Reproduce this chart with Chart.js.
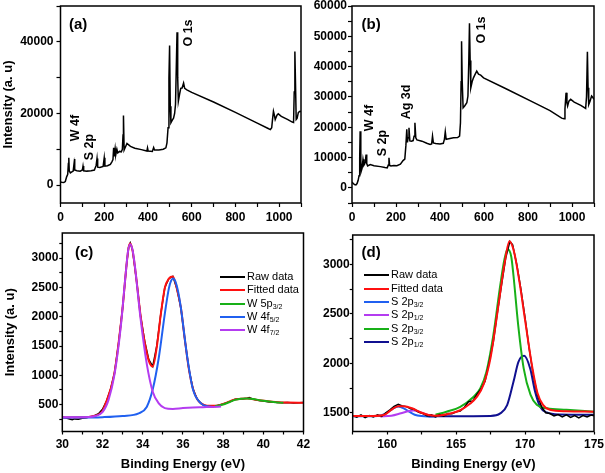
<!DOCTYPE html>
<html>
<head>
<meta charset="utf-8">
<script src="https://cdn.jsdelivr.net/npm/chart.js@4.4.1/dist/chart.umd.min.js"></script>
<style>
  body { margin: 0; background: #fff; }
  #wrap { position: relative; width: 605px; height: 473px; font-family: "Liberation Sans", Arial, sans-serif; color: #000; }
  canvas { position: absolute; left: 0; }
  .tag { position: absolute; font-weight: bold; font-size: 12.5px; line-height: 1; transform: translate(-50%, -50%) rotate(-90deg); white-space: nowrap; }
  .plabel { position: absolute; font-weight: bold; font-size: 15px; line-height: 1; }
  .legend { position: absolute; font-size: 11px; }
  .legend div { height: 13.3px; line-height: 13.3px; white-space: nowrap; }
  .legend i { display: inline-block; width: 25px; height: 2px; vertical-align: middle; margin-right: 2px; }
  .legend sub { font-size: 7px; line-height: 0; vertical-align: -2px; }
</style>
</head>
<body>
<div id="wrap">
  <canvas id="pa" width="605" height="225" style="top:0"></canvas>
  <canvas id="pb" width="605" height="225" style="top:0"></canvas>
  <canvas id="pc" width="605" height="248" style="top:225px"></canvas>
  <canvas id="pd" width="605" height="248" style="top:225px"></canvas>

  <div class="plabel" style="left:69px;top:15.5px">(a)</div>
  <div class="plabel" style="left:361.5px;top:15.5px">(b)</div>
  <div class="plabel" style="left:75px;top:243.5px">(c)</div>
  <div class="plabel" style="left:361.5px;top:244px">(d)</div>

  <div class="tag" style="left:75px;top:127.5px">W 4f</div>
  <div class="tag" style="left:88.5px;top:147px">S 2p</div>
  <div class="tag" style="left:187.5px;top:33px">O 1s</div>
  <div class="tag" style="left:368.5px;top:118px">W 4f</div>
  <div class="tag" style="left:381.5px;top:142.5px">S 2p</div>
  <div class="tag" style="left:405.5px;top:102px">Ag 3d</div>
  <div class="tag" style="left:481px;top:30px">O 1s</div>

  <div class="legend" style="left:220px;top:270px">
    <div><i style="background:#000"></i>Raw data</div>
    <div><i style="background:#ff1010"></i>Fitted data</div>
    <div><i style="background:#18b018"></i>W 5p<sub>3/2</sub></div>
    <div><i style="background:#2060f0"></i>W 4f<sub>5/2</sub></div>
    <div><i style="background:#b43cf0"></i>W 4f<sub>7/2</sub></div>
  </div>
  <div class="legend" style="left:364px;top:268.4px">
    <div><i style="background:#000"></i>Raw data</div>
    <div><i style="background:#ff1010"></i>Fitted data</div>
    <div><i style="background:#2060f0"></i>S 2p<sub>3/2</sub></div>
    <div><i style="background:#b43cf0"></i>S 2p<sub>1/2</sub></div>
    <div><i style="background:#18b018"></i>S 2p<sub>3/2</sub></div>
    <div><i style="background:#101090"></i>S 2p<sub>1/2</sub></div>
  </div>
</div>
<script>
// (a) survey spectrum
const aEnergy = [0, 5, 15, 22, 28, 33, 36, 38, 40, 45, 52, 58, 62, 64, 66, 75, 90, 100, 103, 106, 120, 140, 155, 163, 167, 170, 180, 195, 200, 203, 215, 228, 235, 240, 243, 246, 250, 253, 258, 262, 270, 278, 283, 286, 288, 291, 296, 304, 320, 340, 370, 395, 398, 401, 420, 426, 430, 450, 470, 482, 487, 492, 496, 499, 502, 505, 512, 517, 522, 526, 530, 533, 536, 539, 545, 550, 556, 563, 568, 578, 600, 700, 800, 900, 950, 960, 966, 970, 974, 978, 982, 990, 996, 1010, 1040, 1060, 1066, 1069, 1072, 1075, 1078, 1082, 1088, 1095, 1100];
const aCounts = [900, 800, 700, 1000, 2300, 3000, 6000, 7600, 4000, 3400, 3700, 3900, 6000, 7300, 4200, 4000, 3900, 4200, 5300, 4000, 3900, 4000, 4200, 5500, 7400, 5000, 4900, 5200, 7600, 5300, 5400, 5800, 6500, 7100, 10400, 8000, 10200, 8500, 10000, 9000, 9400, 9300, 10000, 14000, 19400, 9800, 10500, 11600, 10800, 10300, 9900, 9500, 10400, 9500, 9400, 10500, 9800, 9800, 10000, 10400, 11800, 16000, 30000, 39000, 22000, 17400, 18200, 18700, 20000, 22500, 34000, 42700, 30000, 23400, 25500, 27000, 27100, 28500, 27000, 26600, 25900, 23200, 20300, 17300, 15800, 15500, 16000, 18500, 20600, 19600, 18300, 19500, 19900, 19200, 18300, 17600, 17500, 26000, 37300, 28000, 18300, 18600, 20300, 20600, 20500];

// (b) survey spectrum
const bEnergy = [0, 5, 11, 18, 23, 28, 32, 35, 37, 40, 42, 46, 50, 54, 58, 61, 64, 67, 71, 83, 100, 129, 150, 160, 165, 168, 171, 177, 190, 204, 220, 232, 240, 245, 249, 252, 255, 259, 263, 270, 278, 282, 286, 290, 295, 318, 340, 355, 362, 366, 370, 380, 400, 415, 420, 424, 428, 440, 461, 480, 489, 493, 496, 498, 501, 505, 512, 522, 527, 531, 534, 537, 540, 546, 552, 560, 567, 575, 585, 598, 700, 825, 900, 953, 964, 968, 973, 977, 980, 986, 994, 1010, 1040, 1062, 1066, 1070, 1073, 1076, 1082, 1089, 1095, 1100];
const bCounts = [1900, 1500, 1100, 1000, 1400, 2500, 4000, 10000, 18700, 9000, 5500, 6500, 9400, 7500, 8000, 8800, 11000, 8000, 7200, 7700, 7300, 7000, 6700, 6600, 7500, 9900, 7400, 7200, 7400, 7300, 7800, 9000, 9500, 14000, 19300, 15000, 16500, 19800, 15500, 15400, 15600, 17000, 21500, 16500, 15800, 15400, 14700, 14300, 14500, 17100, 14800, 14600, 14500, 14700, 16000, 18500, 16000, 16200, 16500, 16600, 17100, 21500, 35000, 48400, 35000, 26400, 27000, 28100, 30300, 42000, 54300, 42000, 33000, 35000, 36300, 37500, 38500, 37500, 37200, 36300, 32700, 28200, 25500, 23000, 22800, 26000, 31400, 28000, 27000, 28600, 29200, 28300, 27200, 26200, 30000, 44900, 33000, 27500, 28600, 30300, 29800, 29200];

// (c) W 4f region
const cEnergy = [30.0, 30.2, 30.4, 30.5, 30.6, 30.8, 31.0, 31.2, 31.4, 31.6, 31.8, 32.0, 32.2, 32.4, 32.6, 32.8, 33.0, 33.2, 33.3, 33.38, 33.5, 33.7, 33.9, 34.1, 34.3, 34.5, 34.7, 34.9, 35.1, 35.3, 35.5, 35.7, 35.9, 36.1, 36.3, 36.5, 36.7, 36.9, 37.1, 37.4, 37.7, 38.0, 38.3, 38.6, 38.8, 39.0, 39.2, 39.3, 39.5, 39.8, 40.0, 40.3, 40.6, 40.9, 41.2, 41.5, 41.8, 42.0];
const cRaw = [290, 270, 250, 240, 255, 250, 265, 275, 290, 310, 345, 420, 560, 760, 1050, 1550, 2150, 2900, 3190, 3260, 3130, 2600, 2000, 1580, 1270, 1150, 1500, 2050, 2500, 2650, 2690, 2480, 2150, 1600, 1100, 770, 600, 520, 480, 470, 480, 510, 545, 590, 595, 600, 610, 620, 590, 570, 560, 545, 540, 530, 535, 525, 530, 535];
const cFitE = [30, 31, 31.5, 32, 32.2, 32.4, 32.6, 32.8, 33.0, 33.2, 33.3, 33.38, 33.5, 33.7, 33.9, 34.1, 34.3, 34.5, 34.7, 34.9, 35.1, 35.3, 35.5, 35.7, 35.9, 36.1, 36.3, 36.5, 36.7, 36.9, 37.2, 37.6, 38.0, 38.6, 39.2, 39.8, 40.6, 41.2, 42];
const cFit = [280, 282, 300, 390, 560, 760, 1050, 1550, 2150, 2900, 3180, 3250, 3120, 2600, 2000, 1560, 1250, 1150, 1480, 2040, 2490, 2650, 2685, 2480, 2150, 1600, 1100, 770, 600, 520, 480, 480, 510, 585, 605, 575, 545, 535, 530];
const c5pE = [37.6, 38.0, 38.3, 38.6, 38.9, 39.2, 39.5, 39.8, 40.2, 40.6, 41.0];
const c5p = [470, 500, 540, 580, 600, 605, 595, 575, 555, 540, 530];
const c4f5E = [30, 32, 33, 33.8, 34.2, 34.5, 34.8, 35.1, 35.3, 35.42, 35.52, 35.62, 35.75, 35.9, 36.2, 36.5, 36.9, 37.2, 37.5];
const c4f5 = [275, 285, 305, 350, 460, 760, 1300, 2050, 2480, 2620, 2655, 2610, 2450, 2150, 1350, 760, 520, 470, 460];
const c4f7E = [30, 31, 31.6, 32, 32.3, 32.6, 32.9, 33.15, 33.27, 33.38, 33.49, 33.6, 33.9, 34.2, 34.5, 34.8, 35.1, 35.5, 36, 36.5, 37, 37.5, 37.9];
const c4f7 = [285, 285, 300, 370, 580, 1020, 1800, 2720, 3120, 3240, 3150, 2900, 1950, 1200, 720, 520, 440, 425, 440, 450, 455, 460, 465];

// (d) S 2p region
const dEnergy = [157.5, 157.8, 158.1, 158.4, 158.7, 159.0, 159.3, 159.6, 159.9, 160.2, 160.5, 160.8, 161.1, 161.4, 161.7, 162.0, 162.3, 162.6, 162.9, 163.2, 163.5, 163.8, 164.1, 164.4, 164.7, 165.0, 165.3, 165.6, 165.9, 166.2, 166.5, 166.8, 167.1, 167.4, 167.7, 168.0, 168.3, 168.6, 168.9, 169.1, 169.4, 169.7, 170.0, 170.3, 170.6, 170.9, 171.2, 171.5, 171.8, 172.1, 172.4, 172.7, 173.0, 173.3, 173.6, 173.9, 174.2, 174.5, 174.8, 175.0];
const dRaw = [1470, 1455, 1478, 1450, 1472, 1458, 1478, 1462, 1500, 1530, 1565, 1585, 1568, 1562, 1540, 1532, 1505, 1492, 1468, 1478, 1458, 1482, 1465, 1492, 1490, 1510, 1518, 1555, 1612, 1618, 1685, 1740, 1820, 2010, 2220, 2520, 2800, 3070, 3235, 3200, 3000, 2750, 2460, 2150, 1880, 1680, 1560, 1500, 1492, 1468, 1482, 1458, 1478, 1452, 1472, 1448, 1472, 1458, 1476, 1470];
const dFitE = [157.5, 159, 159.8, 160.3, 160.8, 161.2, 161.8, 162.4, 163, 163.5, 164.5, 165.3, 166, 166.5, 167, 167.5, 168, 168.5, 168.87, 169.2, 169.6, 170, 170.5, 170.9, 171.3, 171.8, 173, 175];
const dFit = [1468, 1468, 1480, 1530, 1565, 1565, 1545, 1505, 1478, 1470, 1490, 1525, 1590, 1660, 1790, 2060, 2520, 3000, 3236, 3130, 2820, 2440, 1980, 1700, 1580, 1530, 1515, 1510];
const dBlueE = [157.5, 159, 159.6, 160.0, 160.4, 160.8, 161.2, 161.6, 162.0, 162.5, 163.0, 163.6];
const dBlue = [1465, 1465, 1475, 1500, 1540, 1562, 1545, 1510, 1480, 1466, 1463, 1463];
const dPurpleE = [159.5, 160.3, 161.0, 161.5, 161.9, 162.4, 162.9, 163.5];
const dPurple = [1462, 1470, 1495, 1515, 1522, 1505, 1480, 1465];
const dGreenE = [163.5, 164.3, 165.3, 166.25, 166.75, 167.2, 167.7, 168.2, 168.5, 168.73, 169.0, 169.16, 169.5, 169.9, 170.4, 170.85, 171.6, 173, 175];
const dGreen = [1480, 1510, 1560, 1660, 1745, 1915, 2285, 2790, 3050, 3155, 3080, 2890, 2390, 1950, 1680, 1580, 1545, 1530, 1510];
const dNavyE = [163, 167.5, 168.2, 168.7, 169.16, 169.52, 169.93, 170.37, 170.73, 171.09, 171.57, 172.5, 175];
const dNavy = [1465, 1468, 1493, 1577, 1813, 2016, 2076, 1948, 1712, 1561, 1503, 1483, 1480];

// tick labels shown on each axis (minor ticks sit halfway between)
const surveyXLabels = [0, 200, 400, 600, 800, 1000];
const aYLabels = [0, 20000, 40000];
const bYLabels = [0, 10000, 20000, 30000, 40000, 50000, 60000];
const cXLabels = [30, 32, 34, 36, 38, 40, 42];
const cYLabels = [500, 1000, 1500, 2000, 2500, 3000];
const dXLabels = [160, 165, 170, 175];
const dYLabels = [1500, 2000, 2500, 3000];

Chart.defaults.font.family = '"Liberation Sans", Arial, sans-serif';
Chart.defaults.color = '#000';

const tickFont = { size: 12, weight: 'bold' };
const titleFont = { size: 13, weight: 'bold' };

function line(xs, ys, color, width, smooth) {
  return {
    data: xs.map((x, i) => ({ x: x, y: ys[i] })),
    borderColor: color,
    borderWidth: width,
    pointRadius: 0,
    fill: false,
    tension: smooth ? 0.4 : 0,
    cubicInterpolationMode: smooth ? 'monotone' : 'default'
  };
}

// major ticks from the label list plus a minor tick halfway between them
function tickSet(labels, min, max) {
  const step = (labels[1] - labels[0]) / 2;
  const out = [];
  for (let v = labels[0] - 4 * step; v <= max + 1e-9; v += step) {
    const r = Math.round(v * 1000) / 1000;
    if (r >= min - 1e-9) out.push({ value: r });
  }
  return out;
}

function pick(list) {
  return v => (list.some(l => Math.abs(l - v) < 1e-6) ? String(v) : '');
}

const frame = {
  id: 'frame',
  afterDraw(c) {
    const { ctx, chartArea: a } = c;
    ctx.save();
    ctx.strokeStyle = '#000';
    ctx.lineWidth = 1.5;
    ctx.strokeRect(a.left, a.top, a.right - a.left, a.bottom - a.top);
    ctx.restore();
  }
};

function panel(id, datasets, o) {
  return new Chart(document.getElementById(id), {
    type: 'line',
    data: { datasets: datasets },
    options: {
      responsive: false,
      animation: false,
      layout: { autoPadding: false, padding: o.pad },
      plugins: { legend: { display: false }, tooltip: { enabled: false } },
      scales: {
        x: {
          type: 'linear', min: o.x[0], max: o.x[1],
          border: { display: false },
          grid: { drawOnChartArea: false, tickLength: o.xtl, tickColor: '#000', tickWidth: 1.2 },
          ticks: { autoSkip: false, maxRotation: 0, padding: o.xpad, font: tickFont, callback: pick(o.xLabels) },
          afterBuildTicks: s => { s.ticks = tickSet(o.xLabels, o.x[0], o.x[1]); },
          title: { display: !!o.xTitle, text: o.xTitle, font: titleFont, padding: { top: 0, bottom: 1 } },
          afterFit: s => { s.height = o.xh; s.paddingLeft = 0; s.paddingRight = 0; }
        },
        y: {
          type: 'linear', min: o.y[0], max: o.y[1],
          border: { display: false },
          grid: { drawOnChartArea: false, tickLength: o.ytl, tickColor: '#000', tickWidth: 1.2 },
          ticks: { autoSkip: false, padding: o.ypad, font: tickFont, callback: pick(o.yLabels) },
          afterBuildTicks: s => { s.ticks = tickSet(o.yLabels, o.y[0], o.y[1]); },
          title: { display: !!o.yTitle, text: o.yTitle, font: titleFont, padding: { top: o.ytp || 0, bottom: 0 } },
          afterFit: s => { s.width = o.yw; s.paddingTop = 0; s.paddingBottom = 0; }
        }
      }
    },
    plugins: [frame]
  });
}

panel('pa', [line(aEnergy, aCounts, '#000', 1.5, false)], {
  pad: { left: 0, top: 6, right: 304, bottom: 0 },
  x: [0, 1100], y: [-5000, 50000],
  xLabels: surveyXLabels, yLabels: aYLabels,
  xh: 22, yw: 60.5, xtl: 4, ytl: 4, xpad: 3, ypad: 3,
  yTitle: 'Intensity (a. u)', ytp: 1
});

panel('pb', [line(bEnergy, bCounts, '#000', 1.5, false)], {
  pad: { left: 305, top: 6, right: 11, bottom: 0 },
  x: [0, 1100], y: [-5000, 60000],
  xLabels: surveyXLabels, yLabels: bYLabels,
  xh: 22, yw: 47, xtl: 4, ytl: 4, xpad: 3, ypad: 1
});

panel('pc', [
  line(c4f7E, c4f7, '#b43cf0', 2, true),
  line(c4f5E, c4f5, '#2060f0', 2, true),
  line(c5pE, c5p, '#18b018', 2, true),
  line(cFitE, cFit, '#ff1010', 2, true),
  line(cEnergy, cRaw, '#000', 1.5, false)
], {
  pad: { left: 0, top: 8, right: 301.5, bottom: 0 },
  x: [30, 42], y: [40, 3430],
  xLabels: cXLabels, yLabels: cYLabels,
  xh: 41.5, yw: 62.3, xtl: 3, ytl: 3, xpad: 2.5, ypad: 1,
  xTitle: 'Binding Energy (eV)', yTitle: 'Intensity (a. u)', ytp: 2.7
});

panel('pd', [
  line(dFitE, dFit, '#ff1010', 2, true),
  line(dEnergy, dRaw, '#000', 1.5, false),
  line(dGreenE, dGreen, '#18b018', 2, true),
  line(dNavyE, dNavy, '#101090', 2, true),
  line(dPurpleE, dPurple, '#b43cf0', 2, true),
  line(dBlueE, dBlue, '#2060f0', 2, true)
], {
  pad: { left: 305, top: 10, right: 11, bottom: 0 },
  x: [157.5, 175], y: [1310, 3300],
  xLabels: dXLabels, yLabels: dYLabels,
  xh: 41.5, yw: 47.7, xtl: 3, ytl: 3, xpad: 2.5, ypad: 0,
  xTitle: 'Binding Energy (eV)'
});
</script>
</body>
</html>
